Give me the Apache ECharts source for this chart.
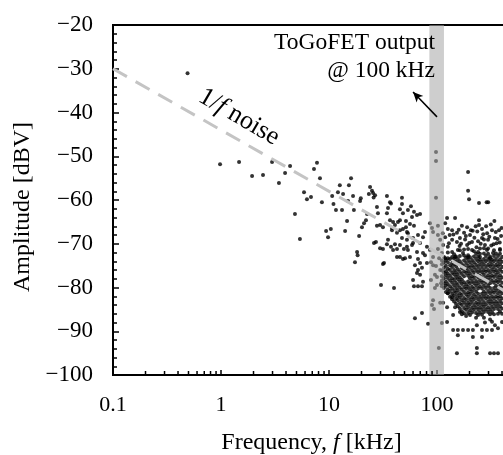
<!DOCTYPE html>
<html>
<head>
<meta charset="utf-8">
<script src="https://cdn.jsdelivr.net/npm/echarts@6/dist/echarts.min.js"></script>
<style>
  html, body { margin: 0; padding: 0; background: #fff; }
  #chart { width: 503px; height: 455px; }
</style>
</head>
<body>
<div id="chart"></div>
<script>
const serif = "'Liberation Serif', 'Times New Roman', serif"

// sparse points below 10 kHz [freq kHz, amplitude dBV]
const lowPoints = [
  [0.49, -31.0], [0.98, -51.8], [1.47, -51.3], [1.94, -54.5], [2.45, -54.3], [2.97, -51.3],
  [3.44, -56.1], [3.92, -53.8], [4.36, -52.2], [4.84, -63.2], [5.38, -68.9], [5.87, -58.2],
  [6.25, -59.8], [6.81, -59.3], [7.26, -52.9], [7.74, -51.5], [8.25, -55.0], [8.6, -60.5],
  [9.4, -67.1], [10.4, -66.6], [9.8, -68.5]
]
// 10 - 55 kHz
const midPoints = [
  [10.7, -59.1], [11.0, -60.9], [11.6, -62.3], [13.2, -62.3], [12.1, -58.2], [13.5, -58.6],
  [12.6, -56.6], [15.3, -56.6], [16.0, -55.0], [15.0, -60.2], [16.7, -59.1], [17.0, -62.3],
  [19.4, -60.2], [19.7, -59.6], [14.7, -64.8], [14.1, -67.1], [19.0, -68.2], [20.2, -66.2],
  [21.1, -65.3], [22.0, -64.6], [22.5, -63.2], [24.0, -57.0], [25.0, -57.9], [25.6, -58.4],
  [23.4, -58.6], [25.9, -59.4], [26.7, -58.9], [27.8, -61.6], [28.4, -63.0], [27.8, -65.9],
  [29.7, -65.7], [31.6, -66.2], [34.4, -59.1], [36.7, -60.5], [37.5, -60.8], [35.2, -61.8],
  [34.4, -63.0], [36.7, -64.6], [39.2, -65.0], [38.3, -66.4], [40.8, -65.7], [43.5, -65.0],
  [45.4, -64.6], [47.4, -59.5], [47.4, -60.9], [45.4, -62.1], [48.4, -63.0], [53.8, -62.3],
  [45.4, -66.9], [48.4, -66.6], [51.6, -66.2], [52.7, -67.3], [53.8, -67.6], [27.2, -69.6],
  [29.7, -71.0], [31.6, -71.2], [34.4, -70.1], [37.5, -70.7], [40.8, -70.1], [42.6, -71.2],
  [45.4, -70.3], [49.4, -71.2], [52.7, -70.7], [18.2, -71.9], [18.4, -72.6], [17.4, -74.2],
  [26.1, -69.8], [42.6, -73.0], [45.4, -73.0], [50.6, -73.3], [31.6, -74.6], [30.3, -79.4],
  [40.0, -80.1], [48.4, -73.5], [39.2, -71.4], [32.3, -74.4], [47.4, -68.7], [42.6, -67.5],
  [38.3, -66.9], [35.2, -69.1]
]
// 55 - 85 kHz
const nearBandPoints = [
  [57.4, -61.4], [61.2, -62.7], [65.3, -63.4], [69.7, -63.2], [58.7, -63.9], [51.6, -64.8],
  [56.2, -65.5], [61.2, -65.9], [77.4, -67.3], [74.2, -68.5], [66.7, -68.0], [60.0, -68.7],
  [52.7, -69.1], [69.7, -69.8], [80.7, -70.7], [58.7, -70.3], [53.8, -71.4], [65.3, -71.9],
  [74.2, -72.1], [86.1, -71.4], [66.7, -73.5], [56.2, -73.0], [62.5, -74.9], [72.6, -75.5],
  [65.3, -76.7], [69.7, -77.1], [77.4, -72.6], [80.7, -74.4], [61.2, -79.7], [66.7, -79.7],
  [72.6, -79.7], [74.2, -78.7], [62.5, -87.0], [72.6, -85.8], [82.6, -88.3], [60.0, -78.3],
  [66.7, -76.0], [69.7, -74.4], [60.0, -69.8]
]
// inside the grey band
const bandPoints = [
  [97.9, -49.0], [97.9, -51.1], [97.9, -59.5], [86.1, -65.3], [89.9, -66.4], [102, -65.9],
  [102, -68.0], [107, -69.1], [91.9, -67.3], [102, -71.2], [91.9, -73.0], [91.9, -74.9],
  [95.7, -77.1], [100, -77.6], [107, -76.0], [95.7, -80.1], [91.9, -82.9], [107, -83.5],
  [89.9, -84.0], [93.8, -84.9], [104, -93.8], [100, -79.4], [88, -74.2], [104.6, -73.3],
  [97.9, -75.1], [109, -79.0], [88, -78.3]
]
// upper edge of the dense cluster
const clusterTop = [
  [124, -64.1], [147, -64.1], [119, -65.3], [126, -66.6], [138, -66.9], [153, -67.5],
  [170, -65.9], [190, -66.2], [178, -67.5], [202, -68.0], [245, -64.6], [245, -65.7],
  [261, -66.6], [323, -66.9], [375, -66.9], [344, -68.7], [297, -69.1], [278, -70.3],
  [261, -68.7], [240, -69.4], [211, -69.6], [190, -70.3], [163, -68.7], [153, -69.6],
  [138, -69.1], [126, -70.7], [114, -70.3], [119, -68.5], [111, -72.1], [138, -71.9],
  [156, -71.4], [174, -72.1], [211, -71.4], [240, -71.9], [290, -71.4], [330, -72.1],
  [383, -71.4], [400, -73.0], [310, -73.3], [250, -73.0], [194, -73.0], [147, -73.0],
  [119, -73.3], [194, -53.6], [194, -57.9], [198, -59.8], [245, -60.7], [288, -60.5],
  [298, -60.5], [214, -67.0], [228, -66.0], [268, -67.8], [356, -69.9], [392, -68.2],
  [285, -66.0], [162, -70.5], [232, -70.8], [318, -70.4], [182, -69.0], [131, -68.0],
  [113, -67.6], [129, -69.9], [142, -67.9], [159, -66.8], [167, -70.0], [185, -68.2],
  [199, -69.8], [206, -66.9], [222, -68.6], [236, -67.2], [254, -70.0], [272, -69.0],
  [291, -67.6], [305, -68.4], [315, -65.6], [334, -70.1], [350, -67.3], [364, -68.9],
  [381, -69.7], [396, -66.4], [340, -64.8]
]
// dense core, one frequency per column
const coreFreqs = [111, 116, 121, 126, 132, 138, 144, 150, 156, 163, 170, 178, 186, 194, 202,
  211, 220, 230, 240, 250, 261, 272, 284, 297, 310, 323, 337, 352, 367, 383, 400]
const coreAmps = [
  [-73.8, -74.7, -76.1, -77.4, -78.4, -79.7],
  [-73.0, -74.3, -75.5, -76.6, -77.9, -79.1, -80.1],
  [-73.7, -75.0, -76.3, -77.2, -78.6, -79.6, -81.0],
  [-72.0, -73.3, -74.2, -75.7, -76.8, -77.8, -79.2, -80.4, -81.3],
  [-73.5, -74.9, -76.0, -77.3, -78.4, -79.7, -80.8, -82.1],
  [-73.0, -74.4, -75.3, -76.6, -77.9, -78.9, -80.2, -81.4, -82.7],
  [-72.4, -73.4, -74.7, -76.0, -77.0, -78.3, -79.5, -80.8, -81.8, -83.2],
  [-72.9, -74.1, -75.2, -76.5, -77.6, -78.9, -80.1, -81.2, -82.5, -83.7],
  [-73.5, -74.5, -75.8, -77.1, -78.1, -79.4, -80.6, -81.9, -82.9, -84.3],
  [-71.5, -72.8, -74.0, -76.4, -77.7, -78.7, -80.0, -81.3, -82.3, -83.6, -84.8],
  [-74.6, -75.6, -76.9, -78.2, -79.2, -80.5, -81.7, -82.9, -84.0, -85.4, -86.1],
  [-71.3, -72.7, -73.8, -75.1, -76.3, -77.4, -78.8, -79.9, -81.0, -82.4, -83.4, -84.7, -85.9],
  [-73.2, -74.4, -75.6, -76.7, -79.3, -80.3, -81.6, -82.8, -84.0, -85.1, -86.5],
  [-71.2, -72.6, -73.7, -75.0, -76.2, -77.3, -78.6, -79.8, -81.1, -82.1, -83.5, -84.5, -85.8],
  [-73.1, -74.3, -75.5, -76.8, -77.9, -79.1, -80.4, -81.5, -82.8, -83.9, -85.2, -86.3],
  [-73.7, -74.9, -76.1, -77.4, -78.5, -79.8, -80.9, -82.2, -83.3, -84.6, -85.7],
  [-71.7, -72.9, -74.2, -75.4, -76.6, -77.8, -79.0, -80.3, -81.6, -82.7, -84.0, -85.1],
  [-72.3, -73.5, -74.8, -76.0, -77.2, -78.5, -79.6, -80.9, -82.1, -83.4, -84.5, -85.8, -86.9],
  [-72.9, -74.0, -75.3, -76.5, -77.7, -79.0, -80.2, -81.4, -82.7, -83.8, -85.1, -86.3],
  [-71.1, -72.3, -73.6, -74.7, -76.0, -77.3, -78.4, -79.7, -82.1, -83.3, -84.5, -85.7],
  [-74.1, -75.3, -76.5, -77.8, -78.9, -80.2, -81.4, -82.6, -83.9, -85.0, -86.2],
  [-71.0, -72.2, -73.5, -74.7, -76.0, -77.1, -78.4, -79.6, -80.9, -82.0, -83.3, -84.4, -85.6, -86.9],
  [-72.8, -74.0, -75.3, -76.4, -77.7, -78.9, -80.1, -81.4, -82.5, -83.8, -85.0],
  [-71.1, -72.3, -73.5, -74.8, -76.0, -77.2, -78.3, -79.6, -80.8, -82.1, -83.2, -84.5, -85.6],
  [-72.9, -74.1, -75.2, -76.5, -77.7, -79.0, -80.1, -81.3, -82.6, -83.7, -85.0, -86.1, -87.3],
  [-73.6, -74.7, -75.9, -77.2, -78.4, -80.8, -82.0, -83.2, -84.4, -85.6],
  [-71.5, -72.8, -74.0, -75.3, -76.4, -77.6, -78.9, -80.1, -81.2, -82.5, -83.7, -84.9, -86.1],
  [-72.2, -73.5, -74.8, -76.0, -77.1, -78.4, -79.6, -80.7, -82.0, -83.2, -84.3],
  [-72.8, -74.1, -75.2, -76.5, -77.7, -78.8, -80.1, -81.3, -82.4, -83.7, -84.9, -86.0],
  [-71.2, -72.3, -73.6, -74.7, -75.9, -77.2, -78.3, -79.6, -80.8, -82.0, -83.1, -84.3, -85.5],
  [-74.1, -75.3, -76.4, -77.7, -78.9, -80.0, -81.3, -82.5, -83.6, -84.8, -86.0]
]
// scattered points under the cluster
const tailPoints = [
  [124, -87.9], [114, -83.5], [124, -84.5], [126, -81.3], [138, -82.2], [147, -84.5],
  [163, -85.6], [156, -89.7], [174, -89.7], [194, -89.7], [215, -91.3], [215, -89.7],
  [234, -88.6], [261, -89.7], [290, -89.7], [323, -89.7], [344, -88.6], [367, -89.3],
  [234, -93.8], [234, -95.0], [310, -95.0], [337, -95.0], [367, -95.0], [153, -95.0],
  [278, -88.0], [323, -87.8], [400, -87.9], [111, -88.1], [141, -89.7], [156, -90.9],
  [261, -91.3], [141, -86.3]
]

const noiseFreq = [0.1, 1000]
const noiseAmp = [-30, -86]
const bandRange = [85, 116]
const arrowTail = [100, -41]
const arrowHead = [60, -35.3]
const xMinorTicks = [0.2, 0.3, 0.4, 0.5, 0.6, 0.7, 0.8, 0.9, 2, 3, 4, 5, 6, 7, 8, 9,
  20, 30, 40, 50, 60, 70, 80, 90, 200, 300, 400, 500, 600, 700, 800, 900]

const corePoints = []
coreFreqs.forEach((f, i) => coreAmps[i].forEach(a => corePoints.push([f, a])))
const allPoints = [].concat(lowPoints, midPoints, nearBandPoints, bandPoints, clusterTop, corePoints, tailPoints)

const chart = echarts.init(document.getElementById('chart'))
const option = {
  animation: false,
  grid: {
    left: 113, top: 25, width: 432, height: 350,
    outerBoundsMode: 'none', containLabel: false,
    show: true, borderColor: '#000', borderWidth: 2, backgroundColor: 'transparent'
  },
  xAxis: {
    type: 'log', logBase: 10, min: 0.1, max: 1000,
    axisLine: { lineStyle: { color: '#000', width: 2 } },
    axisTick: { inside: true, length: 5, lineStyle: { color: '#000', width: 1.5 } },
    splitLine: { show: false },
    axisLabel: { fontFamily: serif, fontSize: 22, color: '#000', margin: 19 },
    name: 'Frequency, {i|f} [kHz]',
    nameLocation: 'middle',
    nameGap: 56,
    nameTextStyle: {
      fontFamily: serif, fontSize: 24, color: '#000', padding: [0, 35, 0, 0],
      rich: { i: { fontFamily: serif, fontSize: 24, fontStyle: 'italic', color: '#000' } }
    }
  },
  yAxis: {
    type: 'value', min: -100, max: -20, interval: 10,
    axisLine: { show: true, lineStyle: { color: '#000', width: 2 } },
    axisTick: { inside: true, length: 6, lineStyle: { color: '#000', width: 1.5 } },
    minorTick: { show: true, splitNumber: 5, length: 4, lineStyle: { color: '#000', width: 1.5 } },
    splitLine: { show: false },
    axisLabel: {
      fontFamily: serif, fontSize: 23, color: '#000', margin: 20,
      formatter: v => String(v).replace('-', '\u2212')
    },
    name: 'Amplitude [dBV]',
    nameLocation: 'middle',
    nameGap: 68,
    nameTextStyle: { fontFamily: serif, fontSize: 24, color: '#000', padding: [0, 14, 0, 0] }
  },
  graphic: [
    {
      type: 'text', x: 435, y: 29, z: 100,
      style: {
        text: 'ToGoFET output\n@ 100 kHz',
        fontFamily: serif, fontSize: 23.5, lineHeight: 28, fill: '#000',
        align: 'right', verticalAlign: 'top'
      }
    },
    {
      type: 'text', x: 239, y: 117, rotation: -0.53, z: 100,
      style: {
        text: '1/{i|f} noise',
        fontFamily: serif, fontSize: 26, fill: '#000',
        align: 'center', verticalAlign: 'middle',
        rich: { i: { fontFamily: serif, fontSize: 26, fontStyle: 'italic', fill: '#000' } }
      }
    }
  ],
  series: [
    {
      type: 'scatter',
      data: allPoints,
      symbol: 'circle',
      symbolSize: 4,
      itemStyle: { color: '#000' },
      silent: true,
      z: 2
    },
    {
      type: 'custom',
      data: [[bandRange[0], bandRange[1]]],
      silent: true,
      z: 3,
      renderItem: (params, api) => {
        const a = api.coord([api.value(0), -20])
        const b = api.coord([api.value(1), -100])
        return {
          type: 'rect',
          shape: { x: a[0], y: a[1], width: b[0] - a[0], height: b[1] - a[1] },
          style: { fill: 'rgba(165,165,165,0.55)' }
        }
      }
    },
    {
      type: 'line',
      data: noiseFreq.map((f, i) => [f, noiseAmp[i]]),
      symbol: 'none',
      silent: true,
      z: 4,
      lineStyle: { color: '#c4c4c4', width: 3, type: [16, 10] },
      markLine: {
        silent: true,
        symbol: ['none', 'arrow'],
        symbolSize: [7, 10],
        label: { show: false },
        lineStyle: { color: '#000', width: 1.5, type: 'solid' },
        data: [[{ coord: arrowTail }, { coord: arrowHead }]]
      }
    },
    {
      type: 'custom',
      data: xMinorTicks.map(v => [v, -100]),
      silent: true,
      z: 5,
      renderItem: (params, api) => {
        const p = api.coord([api.value(0), api.value(1)])
        return {
          type: 'line',
          shape: { x1: p[0], y1: p[1], x2: p[0], y2: p[1] - 4 },
          style: { stroke: '#000', lineWidth: 1.5 }
        }
      }
    }
  ]
}
chart.setOption(option)
</script>
</body>
</html>
